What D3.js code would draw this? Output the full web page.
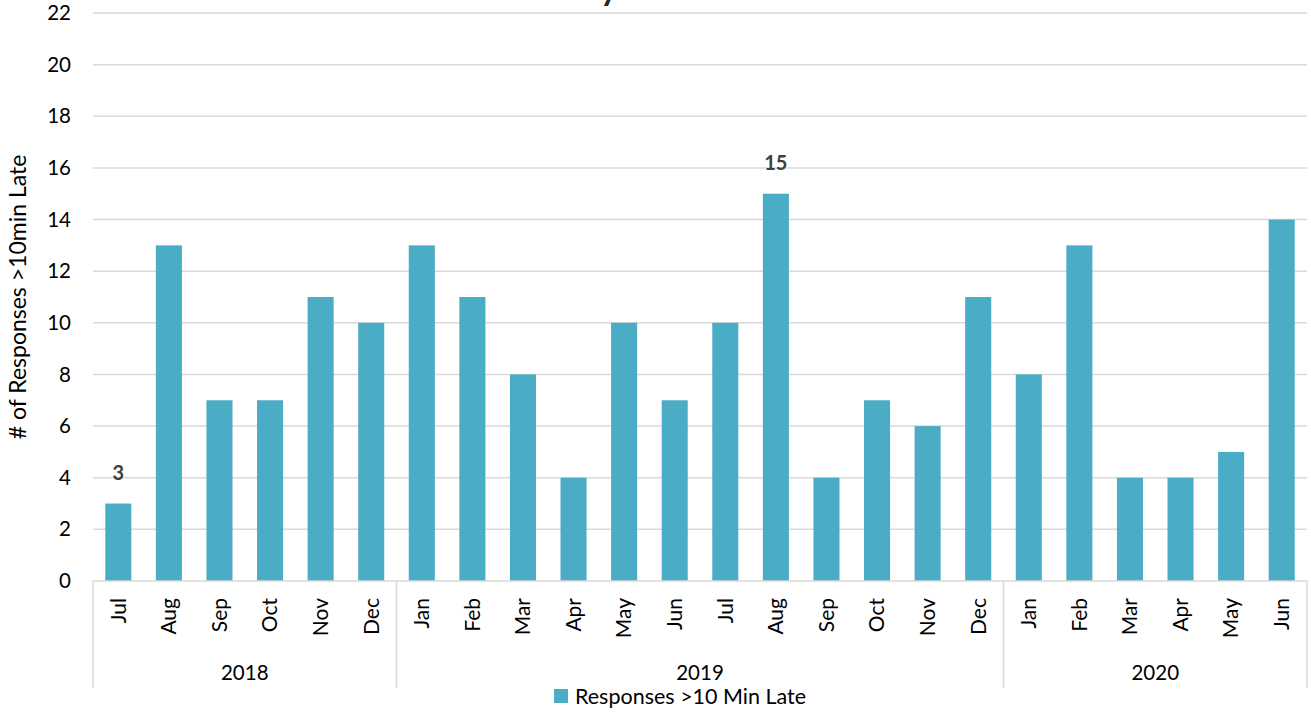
<!DOCTYPE html>
<html>
<head>
<meta charset="utf-8">
<script src="https://cdn.jsdelivr.net/npm/d3@7"></script>
<style>
  html, body { margin: 0; padding: 0; background: #fff; }
  svg { display: block; font-family: Lato, "Open Sans", sans-serif; }
</style>
</head>
<body>
<svg id="chart" width="1311" height="719"></svg>
<script>
const months = ["Jul","Aug","Sep","Oct","Nov","Dec","Jan","Feb","Mar","Apr","May","Jun","Jul","Aug","Sep","Oct","Nov","Dec","Jan","Feb","Mar","Apr","May","Jun"];
const years = ["2018","2018","2018","2018","2018","2018","2019","2019","2019","2019","2019","2019","2019","2019","2019","2019","2019","2019","2020","2020","2020","2020","2020","2020"];
const lateResponses = [3,13,7,7,11,10,13,11,8,4,10,7,10,15,4,7,6,11,8,13,4,4,5,14];
const yTicks = [0,2,4,6,8,10,12,14,16,18,20,22];
const seriesName = "Responses >10 Min Late";
const yTitle = "# of Responses >10min Late";
const chartTitle = "Monthly";

(function () {
const svg = d3.select("#chart");
const pLeft = 93, pRight = 1307, pTop = 13, pBottom = 581;
const barColor = "#4bacc6", gridColor = "#d9d9d9", textColor = "#000";

const idx = d3.range(months.length);
const x = d3.scaleBand().domain(idx).range([pLeft, pRight]).paddingInner(0.485).paddingOuter(0.2425);
const y = d3.scaleLinear().domain([0, 22]).range([pBottom, pTop]);

// title (clipped above the view, as in the reference: only a descender shows)
svg.append("text").attr("x", 618).attr("y", -0.5).attr("text-anchor", "end")
  .attr("font-size", 34).attr("font-weight", "bold").attr("fill", "#262626").text(chartTitle);

// gridlines
svg.append("g").selectAll("line").data(yTicks.filter(d => d > 0)).join("line")
  .attr("x1", pLeft).attr("x2", pRight).attr("y1", d => y(d)).attr("y2", d => y(d))
  .attr("stroke", gridColor).attr("stroke-width", 1.5);

// y axis
const yAxis = svg.append("g").attr("transform", `translate(${pLeft},0)`)
  .call(d3.axisLeft(y).tickValues(yTicks).tickSize(0).tickPadding(22));
yAxis.select(".domain").remove();
yAxis.selectAll("text").attr("font-size", 20.5).attr("fill", textColor).attr("font-family", "Lato, sans-serif");

// bars
svg.append("g").selectAll("rect").data(idx).join("rect")
  .attr("x", i => x(i)).attr("width", x.bandwidth())
  .attr("y", i => y(lateResponses[i])).attr("height", i => y(0) - y(lateResponses[i]))
  .attr("fill", barColor);

// data labels for min and max
const maxV = d3.max(lateResponses), minV = d3.min(lateResponses);
svg.append("g").selectAll("text").data(idx.filter(i => lateResponses[i] === maxV || lateResponses[i] === minV)).join("text")
  .attr("x", i => x(i) + x.bandwidth() / 2).attr("y", i => y(lateResponses[i]) - 24)
  .attr("text-anchor", "middle").attr("font-size", 20).attr("font-weight", "bold").attr("fill", "#404040")
  .text(i => lateResponses[i]);

// category axis baseline
svg.append("line").attr("x1", pLeft).attr("x2", pRight).attr("y1", pBottom).attr("y2", pBottom)
  .attr("stroke", gridColor).attr("stroke-width", 1.5);

// month labels via axis
const xAxis = svg.append("g").attr("transform", `translate(0,${pBottom})`)
  .call(d3.axisBottom(x).tickSize(0).tickFormat(i => months[i]));
xAxis.select(".domain").remove();
xAxis.selectAll("text")
  .attr("transform", "rotate(-90)")
  .attr("text-anchor", "end").attr("x", -17).attr("y", 0).attr("dy", "0.35em")
  .attr("font-size", 21).attr("fill", textColor).attr("font-family", "Lato, sans-serif");

// year groups
const groups = d3.groups(idx, i => years[i]).map(([yr, is]) => ({ yr, first: is[0], last: is[is.length - 1] }));
const step = x.step();
const bounds = [pLeft, ...groups.map(g => x(g.last) + x.bandwidth() / 2 + step / 2)];
svg.append("g").selectAll("line").data(bounds).join("line")
  .attr("x1", d => d).attr("x2", d => d).attr("y1", pBottom).attr("y2", 688)
  .attr("stroke", gridColor).attr("stroke-width", 1.5);
svg.append("g").selectAll("text").data(groups).join("text")
  .attr("x", g => ((x(g.first) + x(g.last) + x.bandwidth()) / 2))
  .attr("y", 680).attr("text-anchor", "middle").attr("font-size", 20.5).attr("fill", textColor)
  .text(g => g.yr);

// y axis title
svg.append("text").attr("transform", `translate(26,297) rotate(-90)`).attr("text-anchor", "middle")
  .attr("font-size", 23).attr("fill", textColor).text(yTitle);

// legend
svg.append("rect").attr("x", 554).attr("y", 689).attr("width", 14).attr("height", 14).attr("fill", barColor);
svg.append("text").attr("x", 575).attr("y", 704).attr("font-size", 21.5).attr("fill", textColor).text(seriesName);
})();
</script>
</body>
</html>
